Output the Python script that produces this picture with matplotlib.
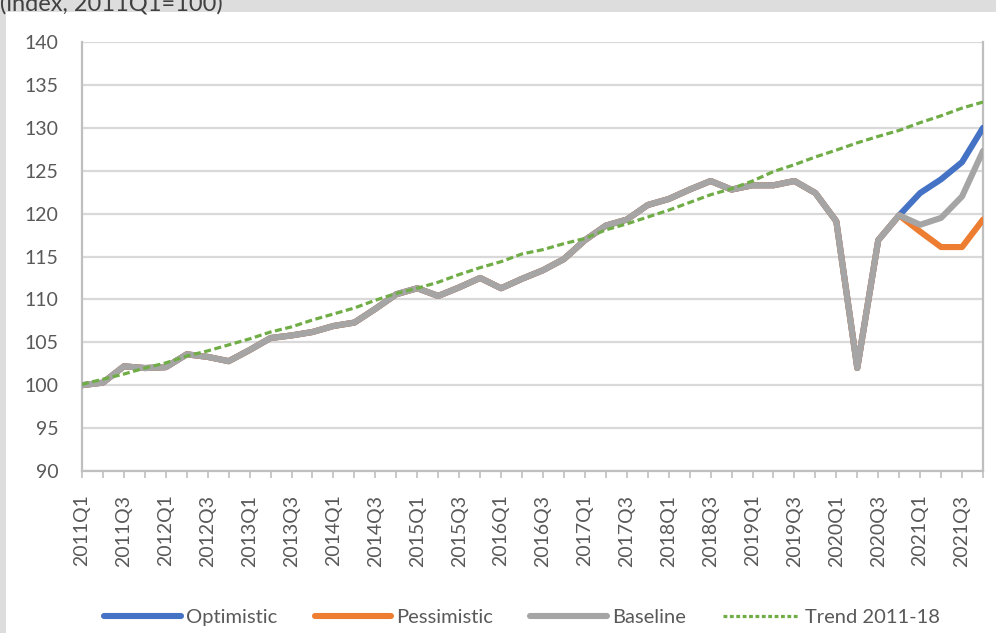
import matplotlib
matplotlib.use("Agg")
import matplotlib.pyplot as plt
from matplotlib.patches import Rectangle
from matplotlib.lines import Line2D

plt.rcParams['font.family'] = ['Lato', 'DejaVu Sans']

# ---- data ----
quarters = [f"{y}Q{q}" for y in range(2011, 2022) for q in range(1, 5)]

baseline = [100.0, 100.3, 102.2, 102.0, 102.1, 103.6, 103.3, 102.8, 104.1, 105.5,
            105.8, 106.2, 106.9, 107.3, 108.9, 110.6, 111.3, 110.4, 111.4, 112.5,
            111.3, 112.4, 113.4, 114.7, 116.9, 118.6, 119.3, 121.0, 121.7, 122.8,
            123.8, 122.8, 123.3, 123.3, 123.8, 122.4, 119.1, 102.0, 116.9, 119.8,
            118.7, 119.5, 122.0, 127.3]

optimistic_2021 = [122.4, 124.0, 126.0, 130.0]
pessimistic_2021 = [117.9, 116.1, 116.1, 119.3]

trend = [100.1, 100.7, 101.3, 102.0, 102.6, 103.4, 104.0, 104.7, 105.4, 106.2,
         106.8, 107.6, 108.3, 109.0, 109.9, 110.7, 111.3, 112.0, 112.9, 113.7,
         114.4, 115.3, 115.8, 116.5, 117.1, 118.1, 118.8, 119.6, 120.4, 121.3,
         122.2, 122.9, 123.8, 124.9, 125.7, 126.6, 127.4, 128.25, 129.0, 129.7,
         130.6, 131.4, 132.3, 133.0]

y_ticks = [90, 95, 100, 105, 110, 115, 120, 125, 130, 135, 140]

# scenarios share history with baseline up to 2020Q4
optimistic = baseline[:40] + optimistic_2021
pessimistic = baseline[:40] + pessimistic_2021
xs = list(range(len(quarters)))

BLUE = '#4472C4'
ORANGE = '#ED7D31'
GRAY = '#A5A5A5'
GREEN = '#70AD47'
TXT = '#595959'
GRID = '#D9D9D9'
AX = '#BFBFBF'

fig = plt.figure(figsize=(9.96, 6.33), dpi=100)
fig.patch.set_facecolor('white')

# light gray screenshot border (left strip and top strip)
fig.add_artist(Rectangle((0, 0), 6 / 996, 1, transform=fig.transFigure,
                         facecolor='#DDDDDD', edgecolor='none', zorder=0))
fig.add_artist(Rectangle((0, 1 - 12 / 633), 1, 12 / 633, transform=fig.transFigure,
                         facecolor='#DDDDDD', edgecolor='none', zorder=0))
fig.text(0.0, 1 - 10 / 633, "(index, 2011Q1=100)", fontsize=17, color='#404040',
         ha='left', va='baseline')

ax = fig.add_axes([82 / 996, 1 - 471 / 633, 901 / 996, 429 / 633])
ax.set_facecolor('white')

lw = 4.4
ax.plot(xs, optimistic, color=BLUE, lw=lw, solid_capstyle='round',
        solid_joinstyle='round', zorder=3, label='Optimistic')
ax.plot(xs, pessimistic, color=ORANGE, lw=lw, solid_capstyle='round',
        solid_joinstyle='round', zorder=4, label='Pessimistic')
ax.plot(xs, baseline, color=GRAY, lw=lw, solid_capstyle='round',
        solid_joinstyle='round', zorder=5, label='Baseline')
ax.plot(xs, trend, color=GREEN, lw=2.3, dashes=(2.2, 1.1), zorder=6,
        label='Trend 2011-18')

ax.set_xlim(0, len(quarters) - 1)
ax.set_ylim(90, 140)
ax.set_yticks(y_ticks)
ax.set_yticklabels([str(v) for v in y_ticks])
ax.yaxis.grid(True, color=GRID, lw=1.6, zorder=0)
ax.set_axisbelow(True)

ax.set_xticks(xs)
ax.set_xticklabels([q if i % 2 == 0 else '' for i, q in enumerate(quarters)],
                   rotation=90, va='top', ha='center')

ax.tick_params(axis='y', length=0, pad=17, labelsize=14, labelcolor=TXT)
ax.tick_params(axis='x', length=5, width=1.2, color=AX, pad=12, labelsize=14,
               labelcolor=TXT)

ax.spines['top'].set_visible(False)
for s in ['left', 'bottom', 'right']:
    ax.spines[s].set_color(AX)
    ax.spines[s].set_linewidth(1.6)

handles = [
    Line2D([], [], color=BLUE, lw=lw, solid_capstyle='round'),
    Line2D([], [], color=ORANGE, lw=lw, solid_capstyle='round'),
    Line2D([], [], color=GRAY, lw=lw, solid_capstyle='round'),
    Line2D([], [], color=GREEN, lw=2.3, dashes=(1.2, 0.8)),
]
labels = ['Optimistic', 'Pessimistic', 'Baseline', 'Trend 2011-18']
leg = fig.legend(handles, labels, loc='center', ncol=4,
                 bbox_to_anchor=(522 / 996, 1 - 617 / 633),
                 frameon=False, fontsize=14.5, handlelength=3.8,
                 handletextpad=0.25, columnspacing=1.85, borderaxespad=0)
for t in leg.get_texts():
    t.set_color(TXT)

fig.savefig('out.png', dpi=100, facecolor=fig.get_facecolor())
